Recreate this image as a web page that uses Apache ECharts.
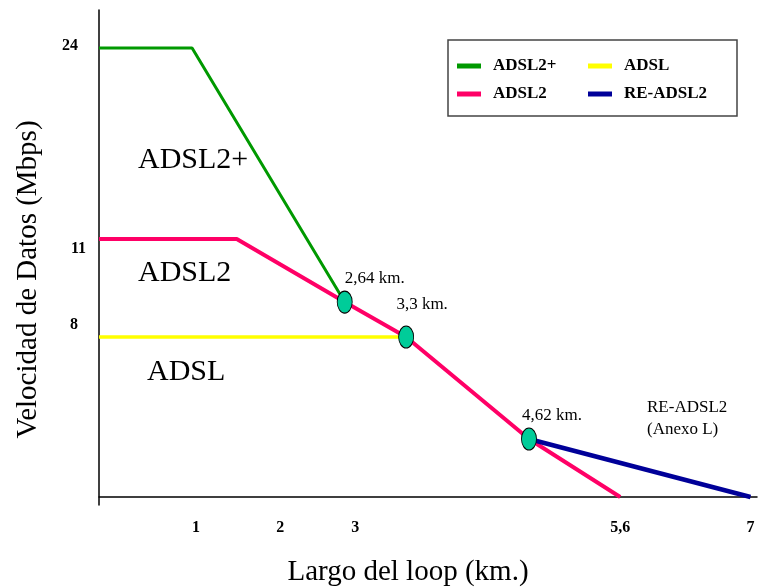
<!DOCTYPE html>
<html><head><meta charset="utf-8">
<script src="https://cdn.jsdelivr.net/npm/echarts@6/dist/echarts.min.js"></script>
<style>html,body{margin:0;padding:0;background:#fff}#c{width:759px;height:588px}</style>
</head><body><div id="c"></div>
<script>
// ---- Data (loop length in km, data rate in Mbps) ----
const adsl2plusKm   = [0, 1.0, 2.64];
const adsl2plusMbps = [24, 24, 9.07];
const adsl2Km       = [0, 1.48, 2.64, 3.3, 4.62, 5.6];
const adsl2Mbps     = [11, 11, 9.07, 8, 2.9, 0];
const adslKm        = [0, 3.3];
const adslMbps      = [8, 8];
const readsl2Km     = [4.62, 7];
const readsl2Mbps   = [2.9, 0];
const markerKm      = [2.64, 3.3, 4.62];
const markerMbps    = [9.07, 8, 2.9];
const xTickLabels   = [1, 2, 3, 5.6, 7];
const yTickLabels   = [24, 11, 8];
const seriesNames   = ['ADSL2+', 'ADSL2', 'ADSL', 'RE-ADSL2'];
const regionLabels  = ['ADSL2+', 'ADSL2', 'ADSL'];
const noteLines     = ['RE-ADSL2', '(Anexo L)'];

// The original y axis is schematic (not proportional): piecewise scale Mbps -> axis units
const scaleMbps  = [0, 8, 11, 24, 26.6];
const scaleUnits = [0, 160, 258, 449, 487];
function toAxis(m) {
  for (let i = 1; i < scaleMbps.length; i++) {
    if (m <= scaleMbps[i] || i === scaleMbps.length - 1) {
      const t = (m - scaleMbps[i-1]) / (scaleMbps[i] - scaleMbps[i-1]);
      return scaleUnits[i-1] + t * (scaleUnits[i] - scaleUnits[i-1]);
    }
  }
}
const pts = (xs, ys) => xs.map((x, i) => [x, toAxis(ys[i])]);
const kmText = v => String(v).replace('.', ',');

const FONT = 'Liberation Serif';
const colors = { 'ADSL2+': '#009900', 'ADSL2': '#FF0066', 'ADSL': '#FFFF00', 'RE-ADSL2': '#000099' };
const widths = { 'ADSL2+': 3, 'ADSL2': 4, 'ADSL': 3.5, 'RE-ADSL2': 4.5 };

// label style offsets (styling only)
const yRich = { y0: { padding: [0, 8, 4, 0] }, y1: { padding: [19, 0, 0, 0] }, y2: { padding: [0, 8, 25, 0] } };
const xRich = { x0: { padding: [0, 0, 0, 8] }, x1: { padding: [0, 10, 0, 0] }, x2: { padding: [0, 46, 0, 0] }, x3: {}, x4: {} };
Object.values(yRich).concat(Object.values(xRich)).forEach(s => { s.fontSize = 16; s.fontWeight = 'bold'; s.fontFamily = FONT; s.color = '#000'; });
const markerLabelOffsets = [[30, -24], [16, -32], [23, -23]];

const lineSeries = (name, xs, ys) => ({
  name, type: 'line', data: pts(xs, ys), showSymbol: false, symbol: 'none',
  lineStyle: { color: colors[name], width: widths[name] }, itemStyle: { color: colors[name] },
  emphasis: { disabled: true }, z: 2
});

const chart = echarts.init(document.getElementById('c'));
chart.setOption({
  animation: false,
  textStyle: { fontFamily: FONT },
  grid: { left: 99, right: 2, top: 10, bottom: 83, containLabel: false, outerBoundsMode: 'none' },
  xAxis: {
    type: 'value', min: 0, max: 7.07,
    axisLine: { show: true, onZero: true, lineStyle: { color: '#000', width: 1.5 } },
    axisTick: { show: false }, splitLine: { show: false },
    axisLabel: {
      customValues: xTickLabels, margin: 15, color: '#000', fontSize: 16, fontWeight: 'bold',
      formatter: v => { const i = xTickLabels.findIndex(t => Math.abs(t - v) < 1e-9); return '{x' + i + '|' + kmText(v) + '}'; },
      rich: xRich
    },
    name: 'Largo del loop (km.)', nameLocation: 'middle', nameGap: 53,
    nameTextStyle: { fontSize: 29, color: '#000', fontFamily: FONT, padding: [0, 40, 0, 0] }
  },
  yAxis: {
    type: 'value', min: -8, max: 487,
    axisLine: { show: true, onZero: false, lineStyle: { color: '#000', width: 1.5 } },
    axisTick: { show: false }, splitLine: { show: false },
    axisLabel: {
      customValues: yTickLabels.map(toAxis), margin: 13, color: '#000', fontSize: 16, fontWeight: 'bold',
      formatter: v => { const i = yTickLabels.findIndex(t => Math.abs(toAxis(t) - v) < 1e-6); return '{y' + i + '|' + yTickLabels[i] + '}'; },
      rich: yRich
    },
    name: 'Velocidad de Datos (Mbps)', nameLocation: 'middle', nameGap: 56, nameRotate: 90,
    nameTextStyle: { fontSize: 29, color: '#000', fontFamily: FONT, padding: [0, 44, 0, 0] }
  },
  legend: {
    data: ['ADSL2+', 'ADSL', 'ADSL2', 'RE-ADSL2'],
    left: 448, top: 40, width: 262, orient: 'horizontal',
    icon: 'rect', itemWidth: 24, itemHeight: 5, itemGap: 10,
    padding: [17, 28, 13, 9], borderColor: '#444', borderWidth: 1.5,
    selectedMode: false,
    textStyle: { fontSize: 17, fontWeight: 'bold', color: '#000', fontFamily: FONT, width: 85, lineHeight: 18, padding: [0, 0, 0, 7] }
  },
  series: [
    lineSeries('ADSL2+', adsl2plusKm, adsl2plusMbps),
    lineSeries('ADSL2', adsl2Km, adsl2Mbps),
    lineSeries('ADSL', adslKm, adslMbps),
    lineSeries('RE-ADSL2', readsl2Km, readsl2Mbps),
    {
      name: 'puntos', type: 'scatter', z: 5,
      symbol: 'path://M0,-1 A1,1 0 1,1 0,1 A1,1 0 1,1 0,-1 Z', symbolSize: [15, 22],
      itemStyle: { color: '#00CC99', borderColor: '#000', borderWidth: 1, opacity: 1 },
      emphasis: { disabled: true },
      data: markerKm.map((k, i) => ({
        value: [k, toAxis(markerMbps[i])],
        label: { show: true, position: 'inside', offset: markerLabelOffsets[i], formatter: kmText(k) + ' km.',
                 fontSize: 17, color: '#000', fontFamily: FONT }
      }))
    }
  ],
  graphic: [
    { type: 'text', x: 138, y: 160, style: { text: regionLabels[0], font: '30px "Liberation Serif"', fill: '#000', textVerticalAlign: 'middle' } },
    { type: 'text', x: 138, y: 273, style: { text: regionLabels[1], font: '30px "Liberation Serif"', fill: '#000', textVerticalAlign: 'middle' } },
    { type: 'text', x: 147, y: 372, style: { text: regionLabels[2], font: '30px "Liberation Serif"', fill: '#000', textVerticalAlign: 'middle' } },
    { type: 'text', x: 647, y: 408, style: { text: noteLines[0], font: '17px "Liberation Serif"', fill: '#000', textVerticalAlign: 'middle' } },
    { type: 'text', x: 647, y: 430, style: { text: noteLines[1], font: '17px "Liberation Serif"', fill: '#000', textVerticalAlign: 'middle' } }
  ]
});
</script></body></html>
